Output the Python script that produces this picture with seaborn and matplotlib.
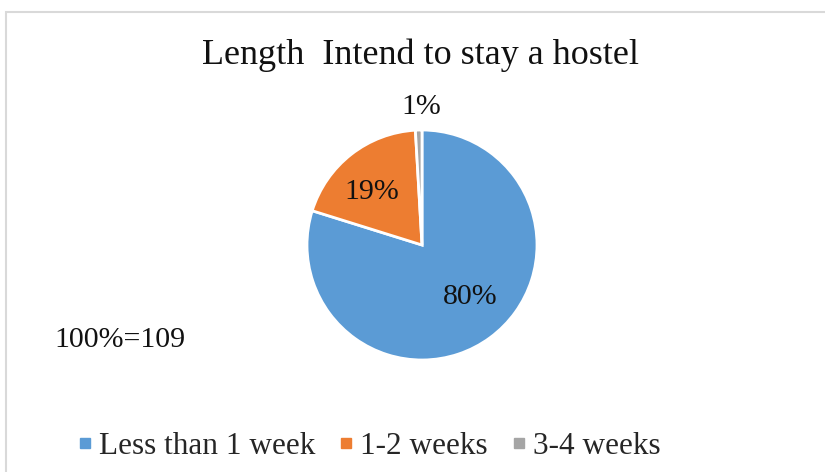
import matplotlib
matplotlib.use("Agg")
import matplotlib.pyplot as plt
from matplotlib.patches import Rectangle
from matplotlib.lines import Line2D
import seaborn as sns

categories = ["Less than 1 week", "1-2 weeks", "3-4 weeks"]
counts = [87, 21, 1]
pct_labels = ["80%", "19%", "1%"]
title = "Length  Intend to stay a hostel"
total_note = "100%=109"

sns.set_theme(style="white")
plt.rcParams['font.family'] = ['Liberation Serif', 'DejaVu Serif']

colors = ["#5b9bd5", "#ed7d31", "#a5a5a5"]

W, H = 825, 472
fig = plt.figure(figsize=(W / 100, H / 100), dpi=100)
fig.patch.set_facecolor("white")

# chart border (light gray, extends beyond right/bottom edges)
fig.patches.append(Rectangle((6 / W, -0.05), 1.1, 1 - 11.5 / H + 0.05,
                             transform=fig.transFigure, fill=False,
                             edgecolor="#d9d9d9", linewidth=1.5))

cx, cy, r = 422, 245, 115
ax = fig.add_axes([(cx - r) / W, (H - cy - r) / H, 2 * r / W, 2 * r / H])
ax.pie(counts, colors=colors, startangle=90, counterclock=False,
       radius=1, wedgeprops=dict(edgecolor="white", linewidth=2))
ax.set_xlim(-1, 1)
ax.set_ylim(-1, 1)
ax.set_aspect("auto")
ax.axis("off")

label_pos = [(0.42, -0.45), (-0.435, 0.46), (-0.01, 1.2)]
for (x, y), t in zip(label_pos, pct_labels):
    ax.text(x, y, t, ha="center", va="center", fontsize=21.5, color="#111111",
            clip_on=False)

fig.text(421 / W, 1 - 55 / H, title, ha="center", va="center", fontsize=26,
         color="#111111")
fig.text(120 / W, 1 - 340 / H, total_note, ha="center", va="center",
         fontsize=21.5, color="#111111")

handles = [Line2D([0], [0], marker="s", linestyle="none", markersize=7,
                  markerfacecolor=c, markeredgecolor=c) for c in colors]
fig.legend(handles, categories, loc="center", bbox_to_anchor=(368 / W, 1 - 446 / H),
           ncol=3, frameon=False, fontsize=22.5, handletextpad=0.15,
           columnspacing=0.7, handlelength=0.6)

fig.savefig("out.png", dpi=100, facecolor="white")
